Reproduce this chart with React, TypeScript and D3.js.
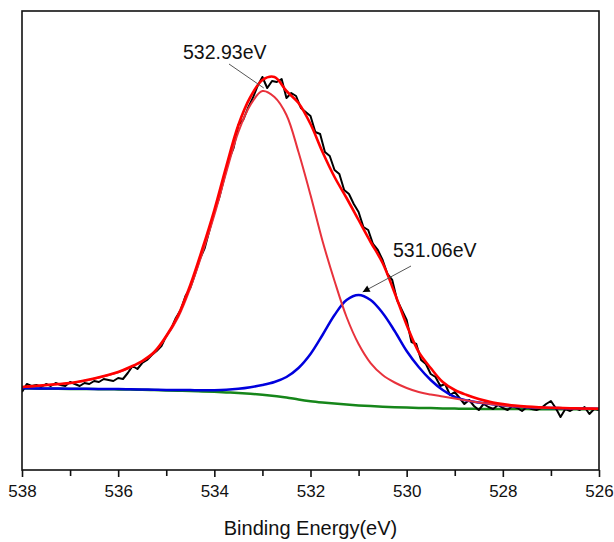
import { useEffect, useRef } from 'react'
import * as d3 from 'd3'

// fit curves sampled every 0.25 eV, 538 -> 526
const fitEnergy = d3.range(0, 49).map(i => 538 - i * 0.25)

const background = [81.5, 81.4, 81.3, 81.2, 81.1, 81, 80.9, 80.8, 80.6, 80.4, 80.2, 79.9, 79.6, 79.3, 79, 78.6,
  78.2, 77.6, 77, 76.2, 75.2, 74, 72.6, 70.5, 68.8, 67.5, 66.4, 65.4, 64.6, 63.9, 63.3, 62.8, 62.4, 62.1, 61.9,
  61.6, 61.4, 61.2, 61.1, 61, 61, 60.9, 60.9, 60.8, 60.8, 60.8, 60.7, 60.7, 60.7]

const envelope = [83, 84, 85, 86, 87, 89, 91.5, 94.5, 98, 103, 109, 118, 134, 155, 185, 221, 260, 304, 345, 373,
  390, 393, 379, 367, 346, 318, 293, 272, 250, 228, 207, 177, 145, 118, 102, 88, 80, 75, 71, 68, 66, 64.5, 63.5,
  62.8, 62.3, 62, 61.7, 61.5, 61.3]

const peak53293 = [82.8, 83.8, 84.8, 85.8, 86.8, 88.8, 91.2, 94.2, 97.6, 102.5, 108.5, 117.5, 133, 153, 182, 217,
  255, 298, 338, 365, 379, 373, 355, 318, 275, 229, 189, 153, 126, 107, 95, 87.5, 82, 78, 75.5, 73.5, 71.5, 69.5,
  67.5, 66, 64.5, 63.5, 62.8, 62.3, 62, 61.7, 61.5, 61.3, 61.2]

const peak53106 = [81.7, 81.6, 81.5, 81.4, 81.3, 81.2, 81.1, 81, 80.9, 80.7, 80.5, 80.3, 80.1, 80, 79.9, 79.8,
  79.8, 80.2, 81.2, 82.8, 85, 88, 93, 102, 116, 135, 155, 170, 175, 170, 157, 139, 119, 103, 90, 80, 73, 69.5, 67.5,
  66, 64.5, 63.5, 62.8, 62.3, 62, 61.7, 61.5, 61.3, 61.2]

// raw spectrum every 0.1 eV, 538 -> 526
const rawEnergy = d3.range(0, 121).map(i => 538 - i * 0.1)
const rawCounts = [78, 86, 84, 85, 83, 86, 84, 87, 85, 84, 88, 86, 84, 87, 86, 89, 88, 91, 90, 89,
  92, 91, 97, 104, 101, 107, 110, 115, 119, 124, 134, 141, 152, 160, 174, 182, 196, 211, 222, 240,
  258, 272, 291, 310, 322, 345, 350, 362, 372, 384, 393, 382, 389, 388, 391, 372, 377, 374, 362, 358,
  354, 338, 336, 318, 314, 300, 296, 280, 276, 266, 258, 243, 240, 226, 220, 210, 196, 190, 170, 160,
  150, 128, 126, 110, 106, 96, 93, 84, 86, 75, 78, 72, 66, 70, 64, 60, 66, 63, 61, 65,
  62, 60, 64, 62, 59, 63, 61, 60, 62, 66, 69, 62, 53, 61, 59, 62, 60, 63, 56, 61, 60]

const majorTicks = [538, 536, 534, 532, 530, 528, 526]
const minorTicks = [537, 535, 533, 531, 529, 527]
const labels = [
  { text: '532.93eV', energy: 532.93 },
  { text: '531.06eV', energy: 531.06 },
]

export default function App() {
  const svgRef = useRef<SVGSVGElement>(null)
  const width = 614
  const height = 542

  useEffect(() => {
    if (!svgRef.current) return
    const svg = d3.select(svgRef.current)
    svg.selectAll('*').remove()

    const left = 22, right = 599, top = 11, bottom = 470
    const font = 'Arial, "Liberation Sans", sans-serif'
    const x = d3.scaleLinear().domain([538, 526]).range([left, right])
    const y = d3.scaleLinear().domain([0, 460]).range([bottom, bottom - 460])

    svg.append('defs').append('marker')
      .attr('id', 'arrow')
      .attr('viewBox', '0 0 10 10')
      .attr('refX', 10).attr('refY', 5)
      .attr('markerWidth', 9).attr('markerHeight', 7)
      .attr('orient', 'auto')
      .append('path').attr('d', 'M0,0 L10,5 L0,10 z').attr('fill', '#000')

    const clip = svg.append('clipPath').attr('id', 'plot')
    clip.append('rect').attr('x', left).attr('y', top).attr('width', right - left).attr('height', bottom - top)

    const g = svg.append('g').attr('clip-path', 'url(#plot)')

    const smooth = (vals: number[]) => d3.line<number>()
      .x((_, i) => x(fitEnergy[i]))
      .y(d => y(d))
      .curve(d3.curveCatmullRom.alpha(0.5))(vals)

    g.append('path').attr('d', smooth(background)!)
      .attr('fill', 'none').attr('stroke', '#16861a').attr('stroke-width', 2.5)

    g.append('path')
      .attr('d', d3.line<number>().x((_, i) => x(rawEnergy[i])).y(d => y(d))(rawCounts)!)
      .attr('fill', 'none').attr('stroke', '#000').attr('stroke-width', 2).attr('stroke-linejoin', 'round')

    g.append('path').attr('d', smooth(peak53106)!)
      .attr('fill', 'none').attr('stroke', '#0000dd').attr('stroke-width', 2.5)

    g.append('path').attr('d', smooth(peak53293)!)
      .attr('fill', 'none').attr('stroke', '#e8323c').attr('stroke-width', 2)

    g.append('path').attr('d', smooth(envelope)!)
      .attr('fill', 'none').attr('stroke', '#ff0000').attr('stroke-width', 2.6)

    // frame
    svg.append('rect')
      .attr('x', left).attr('y', top).attr('width', right - left).attr('height', bottom - top)
      .attr('fill', 'none').attr('stroke', '#111').attr('stroke-width', 1.6)

    const axis = svg.append('g').attr('transform', `translate(0,${bottom})`)
      .call(d3.axisBottom(x).tickValues(majorTicks).tickSize(7).tickPadding(8).tickFormat(d3.format('d')))
    axis.select('.domain').remove()
    axis.selectAll('line').attr('stroke', '#111').attr('stroke-width', 1.6)
    axis.selectAll('text')
      .attr('font-family', font)
      .attr('font-size', 17).attr('fill', '#111')

    const minor = svg.append('g').attr('transform', `translate(0,${bottom})`)
      .call(d3.axisBottom(x).tickValues(minorTicks).tickSize(6).tickFormat(() => ''))
    minor.select('.domain').remove()
    minor.selectAll('line').attr('stroke', '#111').attr('stroke-width', 1.6)

    svg.append('text')
      .attr('x', (left + right) / 2).attr('y', 535)
      .attr('text-anchor', 'middle')
      .attr('font-family', font)
      .attr('font-size', 20).attr('fill', '#111')
      .text('Binding Energy(eV)')

    // peak annotations
    svg.append('text')
      .attr('x', 183).attr('y', 59)
      .attr('font-family', font)
      .attr('font-size', 19.5).attr('fill', '#111')
      .text(labels[0].text)
    svg.append('line')
      .attr('x1', 229).attr('y1', 64).attr('x2', x(labels[0].energy) - 2).attr('y2', 88)
      .attr('stroke', '#555').attr('stroke-width', 1)

    svg.append('text')
      .attr('x', 393).attr('y', 257)
      .attr('font-family', font)
      .attr('font-size', 19.5).attr('fill', '#111')
      .text(labels[1].text)
    svg.append('line')
      .attr('x1', 411).attr('y1', 266).attr('x2', x(labels[1].energy) + 7).attr('y2', 292)
      .attr('stroke', '#555').attr('stroke-width', 1)
      .attr('marker-end', 'url(#arrow)')
  }, [])

  return (
    <div style={{ position: 'absolute', left: 0, top: 0, background: '#fff' }}>
      <svg ref={svgRef} width={width} height={height} style={{ display: 'block' }} />
    </div>
  )
}
